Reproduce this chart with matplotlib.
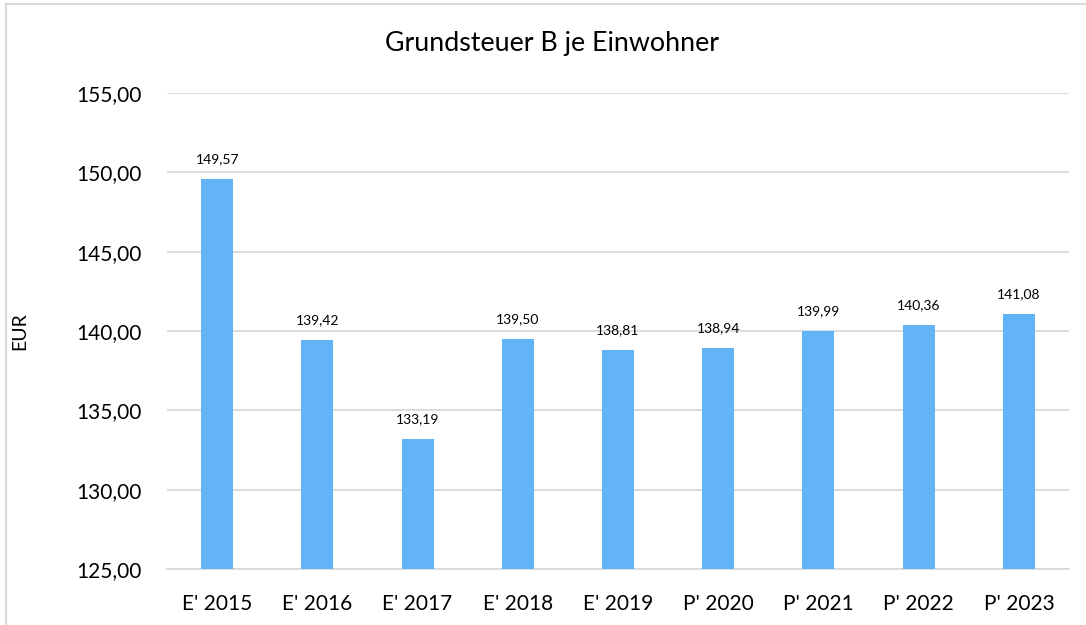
import matplotlib
matplotlib.use("Agg")
import matplotlib.pyplot as plt
from matplotlib.lines import Line2D
from matplotlib.ticker import FuncFormatter

categories = ["E' 2015", "E' 2016", "E' 2017", "E' 2018", "E' 2019",
              "P' 2020", "P' 2021", "P' 2022", "P' 2023"]
values = [149.57, 139.42, 133.19, 139.50, 138.81, 138.94, 139.99, 140.36, 141.08]
yticks = [125, 130, 135, 140, 145, 150, 155]

plt.rcParams['font.family'] = ['Lato', 'DejaVu Sans']

fig = plt.figure(figsize=(10.86, 6.25), dpi=100)
ax = fig.add_axes([167/1086, 1-569/625, (1069-167)/1086, (569-93)/625])

x = list(range(len(categories)))
ax.bar(x, values, width=0.32, color='#63B4F6', zorder=3)
ax.set_xlim(-0.5, len(categories)-0.5)
ax.set_ylim(125, 155)
ax.set_yticks(yticks)
ax.yaxis.set_major_formatter(FuncFormatter(lambda v, p: f"{v:.2f}".replace('.', ',')))
ax.set_xticks(x)
ax.set_xticklabels(categories)
ax.tick_params(axis='both', length=0, labelsize=15, colors='black')
ax.tick_params(axis='x', pad=18)
ax.tick_params(axis='y', pad=18)
ax.grid(axis='y', color='#D9D9D9', linewidth=1.3, zorder=0)
for s in ['top', 'right', 'left']:
    ax.spines[s].set_visible(False)
ax.spines['bottom'].set_color('#D9D9D9')
ax.spines['bottom'].set_linewidth(1.3)

for xi, v in zip(x, values):
    ax.annotate(f"{v:.2f}".replace('.', ','), (xi, v), xytext=(0, 11.5),
                textcoords='offset points', ha='center', va='baseline', fontsize=10)

ax.set_ylabel('EUR', fontsize=14)
ax.yaxis.set_label_coords((28-167)/(1069-167), 0.5)

fig.text(552/1086, 1-44/625, 'Grundsteuer B je Einwohner', ha='center', va='center', fontsize=19.3)

# outer border (top and left visible)
fig.add_artist(Line2D([6/1086, 1], [1-4/625, 1-4/625], color='#D9D9D9', linewidth=1.5, transform=fig.transFigure))
fig.add_artist(Line2D([6/1086, 6/1086], [0, 1-4/625], color='#D9D9D9', linewidth=1.5, transform=fig.transFigure))

fig.savefig('out.png', dpi=100)
